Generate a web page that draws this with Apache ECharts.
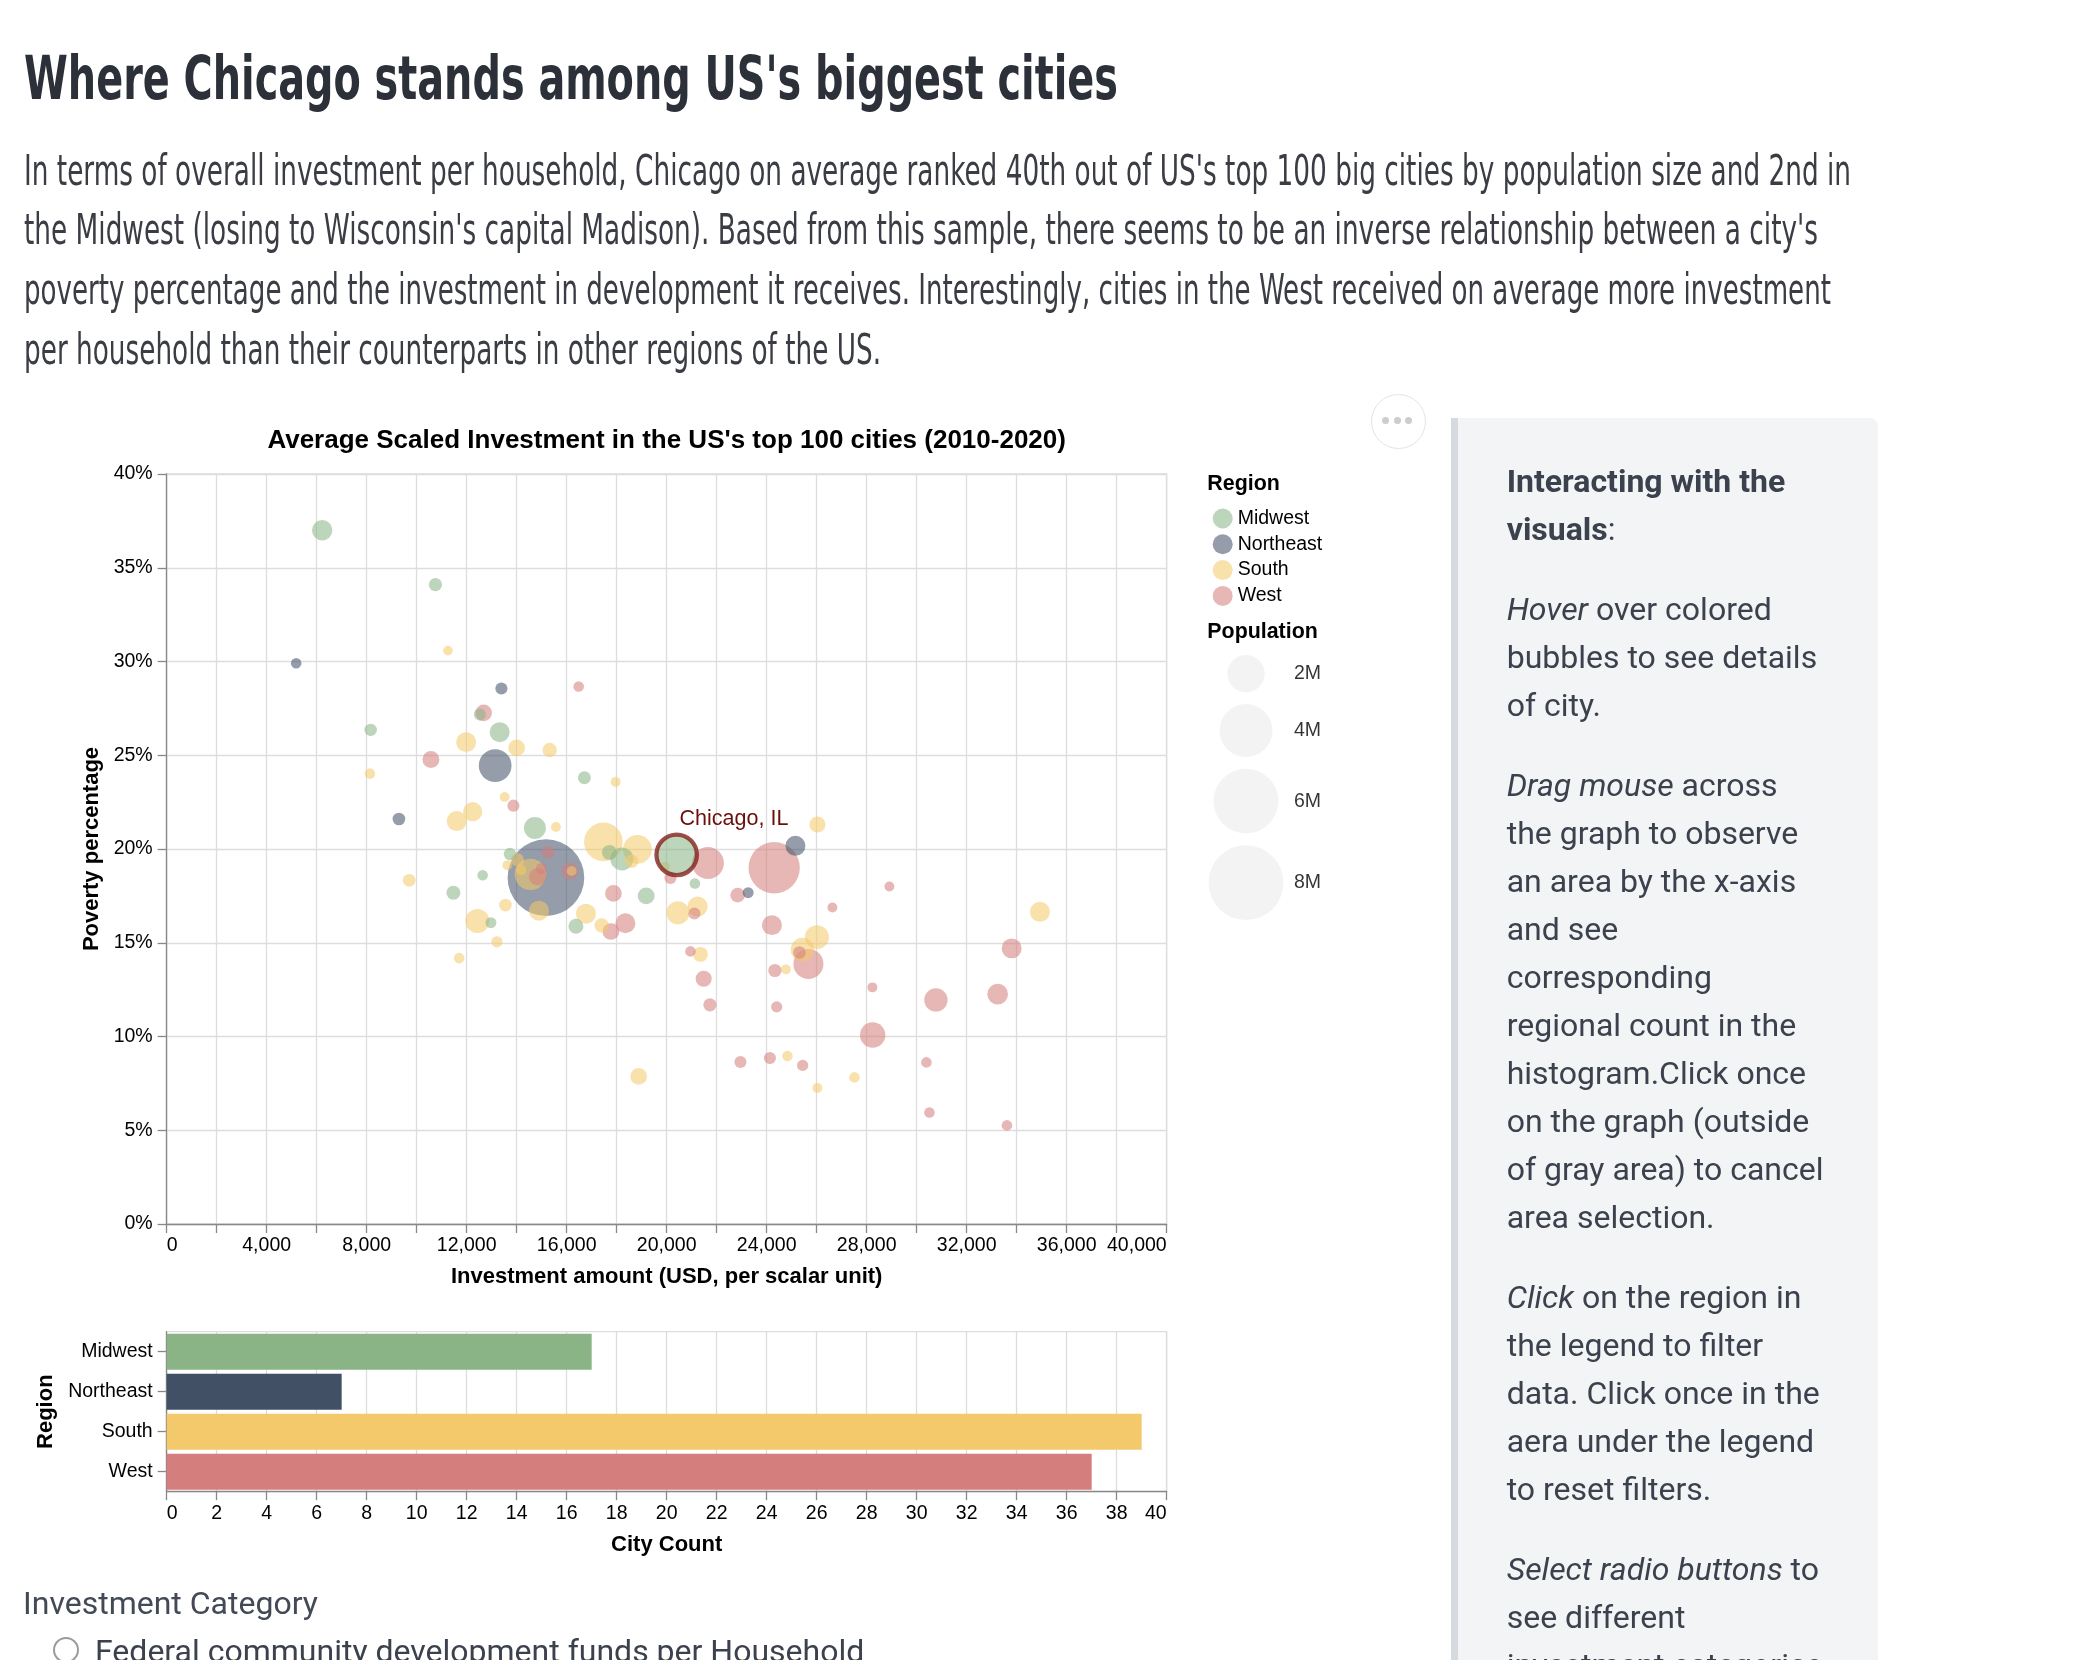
<!DOCTYPE html>
<html><head><meta charset="utf-8">
<script src="https://cdn.jsdelivr.net/npm/echarts@6/dist/echarts.min.js"></script>
<style>
html,body{margin:0;padding:0;background:#fff;}
body{width:2090px;height:1660px;position:relative;overflow:hidden;}
#chart{position:absolute;left:0;top:0;width:2090px;height:1660px;z-index:1;}
.fit{position:absolute;white-space:nowrap;transform-origin:0 0;z-index:2;}
#title{left:24px;top:47.5px;font-weight:bold;font-size:60px;line-height:60px;font-family:"Liberation Sans Narrow","DejaVu Sans Condensed","Liberation Sans",sans-serif;color:#2c3038;}
.para{left:24px;font-size:43px;line-height:43px;font-family:"Liberation Sans Narrow","DejaVu Sans Condensed","Liberation Sans",sans-serif;color:#3a3d44;}
#panel{position:absolute;left:1450.7px;top:417.6px;width:427px;height:1400px;background:#f3f4f6;border-left:7px solid #d6d9df;box-sizing:border-box;border-top-right-radius:8px;z-index:0;}
#panelText{position:absolute;left:1506.7px;top:456.5px;font-family:Roboto,sans-serif;font-size:32px;line-height:48px;color:#3b414d;white-space:nowrap;z-index:2;}
#panelText p{margin:0 0 32px 0;}
#more{position:absolute;left:1370.5px;top:393.5px;width:55px;height:55px;border:1.5px solid #e3e3e3;border-radius:50%;box-sizing:border-box;background:#fff;z-index:2;}
#more span{position:absolute;top:22.3px;width:7px;height:7px;border-radius:50%;background:#cdcdcd;}
#invCat{position:absolute;left:23px;top:1587px;font-family:Roboto,sans-serif;font-size:32px;line-height:32px;color:#434a55;white-space:nowrap;z-index:2;}
#radio{position:absolute;left:52.7px;top:1637.3px;width:26px;height:26px;border:2.5px solid #9b9b9b;border-radius:50%;box-sizing:border-box;z-index:2;}
#radioText{position:absolute;left:95px;top:1635px;font-family:Roboto,sans-serif;font-size:32px;line-height:32px;color:#3b414d;white-space:nowrap;z-index:2;}
</style>
</head>
<body>
<div id="panel"></div>
<div id="chart"></div>
<div id="title" class="fit" data-w="1094">Where Chicago stands among US's biggest cities</div>
<div class="fit para" style="top:148.6px" data-w="1827">In terms of overall investment per household, Chicago on average ranked 40th out of US's top 100 big cities by population size and 2nd in</div>
<div class="fit para" style="top:208.1px" data-w="1794">the Midwest (losing to Wisconsin's capital Madison). Based from this sample, there seems to be an inverse relationship between a city's</div>
<div class="fit para" style="top:267.6px" data-w="1807">poverty percentage and the investment in development it receives. Interestingly, cities in the West received on average more investment</div>
<div class="fit para" style="top:327.6px" data-w="857">per household than their counterparts in other regions of the US.</div>
<div id="more"><span style="left:10.9px"></span><span style="left:22.4px"></span><span style="left:33.4px"></span></div>
<div id="panelText">
<p><b>Interacting with the<br>visuals</b>:</p>
<p><i>Hover</i> over colored<br>bubbles to see details<br>of city.</p>
<p><i>Drag mouse</i> across<br>the graph to observe<br>an area by the x-axis<br>and see<br>corresponding<br>regional count in the<br>histogram.Click once<br>on the graph (outside<br>of gray area) to cancel<br>area selection.</p>
<p><i>Click</i> on the region in<br>the legend to filter<br>data. Click once in the<br>aera under the legend<br>to reset filters.</p>
<p><i>Select radio buttons</i> to<br>see different<br>investment categories</p>
</div>
<div id="invCat">Investment Category</div>
<div id="radio"></div>
<div id="radioText">Federal community development funds per Household</div>
<script>
// ---------------- data ----------------
const regionNames = ['Midwest', 'Northeast', 'South', 'West'];

const midwestInvest  = [6220, 10750, 8160, 12530, 13320, 16710, 14730, 17710, 18210, 13730, 12640, 11470, 12970, 16370, 20400, 21130, 19180];
const midwestPoverty = [37.0, 34.1, 26.35, 27.17, 26.23, 23.8, 21.12, 19.82, 19.47, 19.73, 18.6, 17.67, 16.07, 15.88, 19.69, 18.16, 17.5];
const midwestPop     = [0.59, 0.25, 0.22, 0.21, 0.57, 0.24, 0.69, 0.32, 0.76, 0.22, 0.16, 0.28, 0.17, 0.32, 2.34, 0.16, 0.41];

const northeastInvest  = [5180, 13390, 13140, 9290, 15170, 25150, 23260];
const northeastPoverty = [29.91, 28.56, 24.45, 21.6, 18.47, 20.17, 17.67];
const northeastPop     = [0.16, 0.21, 1.53, 0.23, 8.4, 0.57, 0.17];

const southInvest  = [11250, 11980, 14000, 15320, 8130, 17960, 13520, 12240, 11600, 15570, 17470, 18830, 18600, 14550, 16200, 14030, 13630, 14170, 9700, 13550, 12430, 14890, 16770, 17400, 13210, 11700, 19930, 20450, 21240, 21350, 24770, 26030, 26010, 25430, 24830, 27510, 18880, 34930, 26030];
const southPoverty = [30.58, 25.7, 25.39, 25.28, 24.02, 23.58, 22.77, 21.99, 21.49, 21.17, 20.38, 19.98, 19.35, 18.65, 18.83, 19.42, 19.14, 18.89, 18.33, 17.01, 16.16, 16.71, 16.55, 15.92, 15.05, 14.18, 19.05, 16.6, 16.93, 14.38, 13.58, 21.31, 15.3, 14.64, 8.96, 7.82, 7.87, 16.65, 7.26];
const southPop     = [0.13, 0.57, 0.4, 0.3, 0.16, 0.14, 0.14, 0.53, 0.57, 0.14, 2.14, 1.18, 0.26, 1.4, 0.14, 0.25, 0.14, 0.16, 0.23, 0.23, 0.82, 0.57, 0.57, 0.3, 0.18, 0.16, 0.14, 0.76, 0.57, 0.32, 0.14, 0.37, 0.82, 0.78, 0.16, 0.16, 0.4, 0.57, 0.14];

const westInvest  = [16480, 12680, 10570, 13870, 15250, 14990, 14840, 16130, 17870, 17770, 18350, 20150, 21650, 24300, 22840, 24210, 21110, 20950, 21480, 21730, 24330, 24400, 28910, 26630, 25310, 25670, 28230, 30770, 33240, 33800, 28240, 22950, 24130, 25440, 30390, 30510, 33610];
const westPoverty = [28.67, 27.26, 24.77, 22.31, 19.82, 18.95, 18.51, 18.82, 17.63, 15.6, 16.04, 18.46, 19.25, 19.0, 17.54, 15.94, 16.56, 14.54, 13.08, 11.69, 13.52, 11.58, 18.0, 16.88, 14.48, 13.87, 12.62, 11.95, 12.26, 14.7, 10.08, 8.64, 8.85, 8.46, 8.62, 5.95, 5.26];
const westPop     = [0.16, 0.39, 0.41, 0.21, 0.23, 0.18, 0.43, 0.4, 0.4, 0.4, 0.57, 0.21, 1.46, 3.76, 0.31, 0.57, 0.21, 0.16, 0.37, 0.25, 0.25, 0.18, 0.14, 0.14, 0.23, 1.29, 0.14, 0.78, 0.61, 0.57, 0.92, 0.21, 0.21, 0.18, 0.16, 0.16, 0.16];

const highlightRegion = 'Midwest';
const highlightIndex = 14;
const highlightLabel = 'Chicago, IL';

const popLegendValues = [2, 4, 6, 8];           // millions
const chartTitle = "Average Scaled Investment in the US's top 100 cities (2010-2020)";
const xAxisTitle = 'Investment amount (USD, per scalar unit)';
const yAxisTitle = 'Poverty percentage';
const barXTitle = 'City Count';
const barYTitle = 'Region';

// ---------------- styling ----------------
const regionColors = ['#8ab486', '#415065', '#f4c96b', '#d47f7d'];
const FONT = '"Liberation Sans", Arial, Helvetica, sans-serif';
const LABEL = 19.5, TITLE = 21.4, AXTITLE = 22;
const AXIS_GRAY = '#888', GRID_GRAY = '#dddddd';
function rgba(hex, a) {
  const n = parseInt(hex.slice(1), 16);
  return `rgba(${(n >> 16) & 255},${(n >> 8) & 255},${n & 255},${a})`;
}
const sizeOf = p => Math.sqrt(p * 550 * 4 / Math.PI);   // area proportional to population

const regionArrays = [
  [midwestInvest, midwestPoverty, midwestPop],
  [northeastInvest, northeastPoverty, northeastPop],
  [southInvest, southPoverty, southPop],
  [westInvest, westPoverty, westPop]
];

const points = [];
let highlightPoint = null;
regionNames.forEach((r, ri) => {
  const [inv, pov, pop] = regionArrays[ri];
  inv.forEach((x, i) => {
    const item = { value: [x, pov[i], pop[i]], itemStyle: { color: rgba(regionColors[ri], 0.7) } };
    if (r === highlightRegion && i === highlightIndex) highlightPoint = item; else points.push(item);
  });
});
points.sort((a, b) => b.value[2] - a.value[2]);
const counts = regionArrays.map(a => a[0].length);

// population legend layout (stacked symbols, like a size legend)
const legendD = popLegendValues.map(sizeOf);
const legendY = [];
legendD.forEach((d, i) => { legendY.push(i === 0 ? d / 2 : legendY[i - 1] + legendD[i - 1] / 2 + 11.7 + d / 2); });

const axisLineStyle = { color: AXIS_GRAY, width: 1.3 };
const labelStyle = { fontSize: LABEL, color: '#000', fontFamily: FONT };
const nameStyle = { fontSize: AXTITLE, fontWeight: 'bold', color: '#000', fontFamily: FONT, verticalAlign: 'middle' };

const chart = echarts.init(document.getElementById('chart'), null, { renderer: 'canvas' });
chart.setOption({
  animation: false,
  textStyle: { fontFamily: FONT },
  grid: [
    { left: 166.67, top: 474, width: 1000, height: 750, show: true, borderColor: GRID_GRAY, borderWidth: 1.3, backgroundColor: 'transparent', containLabel: false, outerBoundsMode: 'none' },
    { left: 166.67, top: 1331.7, width: 1000, height: 160, show: true, borderColor: GRID_GRAY, borderWidth: 1.3, backgroundColor: 'transparent', containLabel: false, outerBoundsMode: 'none' },
    { left: 1196, top: 655, width: 100, height: 260, containLabel: false, outerBoundsMode: 'none' }
  ],
  xAxis: [
    { type: 'value', gridIndex: 0, min: 0, max: 40000, interval: 2000,
      name: xAxisTitle, nameLocation: 'middle', nameGap: 53, nameTextStyle: nameStyle,
      axisLine: { show: true, onZero: false, lineStyle: axisLineStyle },
      axisTick: { show: true, length: 9, lineStyle: axisLineStyle },
      axisLabel: Object.assign({ margin: 12, hideOverlap: false, showMinLabel: true, showMaxLabel: true, alignMinLabel: 'left', alignMaxLabel: 'right',
        formatter: v => (v % 4000 === 0 ? v.toLocaleString('en-US') : '') }, labelStyle),
      splitLine: { show: true, lineStyle: { color: GRID_GRAY, width: 1.3 } } },
    { type: 'value', gridIndex: 1, min: 0, max: 40, interval: 2,
      name: barXTitle, nameLocation: 'middle', nameGap: 53.3, nameTextStyle: nameStyle,
      axisLine: { show: true, onZero: false, lineStyle: axisLineStyle },
      axisTick: { show: true, length: 8.5, lineStyle: axisLineStyle },
      axisLabel: Object.assign({ margin: 12, hideOverlap: false, showMinLabel: true, showMaxLabel: true, alignMinLabel: 'left', alignMaxLabel: 'right' }, labelStyle),
      splitLine: { show: true, lineStyle: { color: GRID_GRAY, width: 1.3 } } },
    { type: 'value', gridIndex: 2, min: 0, max: 100, show: false }
  ],
  yAxis: [
    { type: 'value', gridIndex: 0, min: 0, max: 40, interval: 5,
      name: yAxisTitle, nameLocation: 'middle', nameGap: 74.5, nameRotate: 90, nameTextStyle: nameStyle,
      axisLine: { show: true, onZero: false, lineStyle: axisLineStyle },
      axisTick: { show: true, length: 9, lineStyle: axisLineStyle },
      axisLabel: Object.assign({ margin: 14, hideOverlap: false, formatter: v => v + '%' }, labelStyle),
      splitLine: { show: true, lineStyle: { color: GRID_GRAY, width: 1.3 } } },
    { type: 'category', gridIndex: 1, data: regionNames, inverse: true,
      name: barYTitle, nameLocation: 'middle', nameGap: 120.7, nameRotate: 90, nameTextStyle: nameStyle,
      axisLine: { show: true, onZero: false, lineStyle: axisLineStyle },
      axisTick: { show: true, alignWithLabel: true, length: 9, lineStyle: axisLineStyle },
      axisLabel: Object.assign({ margin: 14 }, labelStyle),
      splitLine: { show: false } },
    { type: 'value', gridIndex: 2, min: 0, max: 260, inverse: true, show: false }
  ],
  legend: {
    data: regionNames, orient: 'vertical', left: 1207.7, top: 503.5,
    itemWidth: 20, itemHeight: 20, itemGap: 5.8, icon: 'circle',
    textStyle: { fontSize: LABEL, color: '#000', fontFamily: FONT, lineHeight: 20 }
  },
  graphic: [
    { type: 'text', x: 666.67, y: 440.5, style: { text: chartTitle, font: `bold 26px ${FONT}`, fill: '#000', textAlign: 'center', align: 'center', textVerticalAlign: 'middle', verticalAlign: 'middle' } },
    { type: 'text', x: 1207.3, y: 484.3, style: { text: 'Region', font: `bold ${TITLE}px ${FONT}`, fill: '#000', textVerticalAlign: 'middle', verticalAlign: 'middle' } },
    { type: 'text', x: 1207.3, y: 632.6, style: { text: 'Population', font: `bold ${TITLE}px ${FONT}`, fill: '#000', textVerticalAlign: 'middle', verticalAlign: 'middle' } }
  ],
  series: [
    ...regionNames.map((r, ri) => ({ type: 'scatter', name: r, data: [], xAxisIndex: 0, yAxisIndex: 0, itemStyle: { color: rgba(regionColors[ri], 0.7) } })),
    { type: 'scatter', name: 'cities', xAxisIndex: 0, yAxisIndex: 0, data: points,
      symbolSize: v => sizeOf(v[2]), emphasis: { disabled: true }, z: 3 },
    { type: 'scatter', name: highlightRegion, xAxisIndex: 0, yAxisIndex: 0,
      data: [highlightPoint], symbolSize: v => sizeOf(v[2]), emphasis: { disabled: true }, z: 4,
      itemStyle: { color: rgba(regionColors[0], 0.7), borderColor: '#84231e', borderWidth: 4.3 },
      label: { show: true, formatter: highlightLabel, position: [25.3, -13], align: 'left', verticalAlign: 'middle',
        fontSize: 21.5, color: '#6a0f0b', opacity: 1, fontFamily: FONT } },
    { type: 'bar', name: 'City Count', xAxisIndex: 1, yAxisIndex: 1, barCategoryGap: '10%',
      data: counts.map((c, i) => ({ value: c, itemStyle: { color: regionColors[i] } })), emphasis: { disabled: true } },
    { type: 'scatter', name: 'popLegend', xAxisIndex: 2, yAxisIndex: 2,
      data: popLegendValues.map((p, i) => [50, legendY[i], p]),
      symbolSize: v => sizeOf(v[2]), itemStyle: { color: '#f0f0f0' }, emphasis: { disabled: true },
      label: { show: true, position: 'inside', align: 'left', offset: [48, 0], formatter: p => p.value[2] + 'M',
        fontSize: LABEL, color: '#000', fontFamily: FONT } }
  ]
});

// fit condensed HTML headline text to measured widths
function fitText() {
  document.querySelectorAll('.fit').forEach(el => {
    el.style.transform = 'none';
    const w = el.getBoundingClientRect().width;
    const t = parseFloat(el.dataset.w);
    if (w > 0) el.style.transform = `scaleX(${t / w})`;
  });
}
fitText();
if (document.fonts && document.fonts.ready) document.fonts.ready.then(fitText);
</script>
</body></html>
